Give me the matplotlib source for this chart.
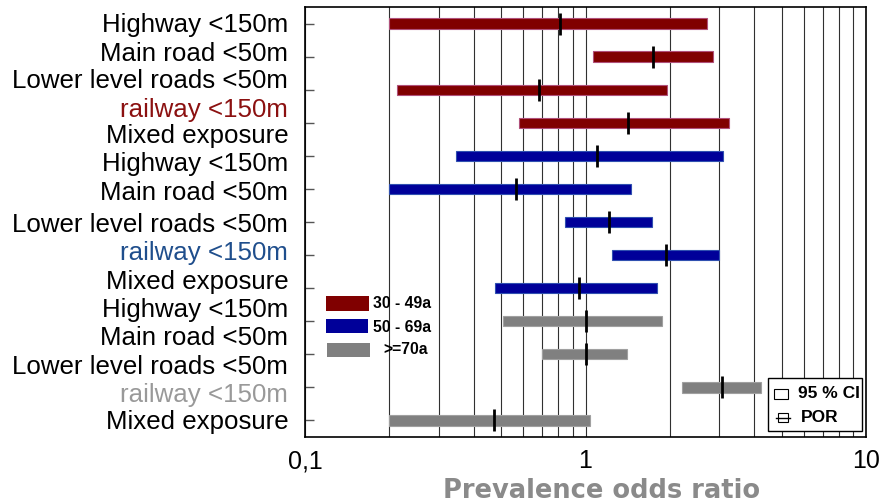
import matplotlib
matplotlib.use("Agg")
import matplotlib.pyplot as plt
from matplotlib.patches import Rectangle
from matplotlib.lines import Line2D

# exposure categories (the y labels, one per text line)
labels = ['Highway <150m', 'Main road <50m', 'Lower level roads <50m', 'railway <150m', 'Mixed exposure',
          'Highway <150m', 'Main road <50m', 'Lower level roads <50m', 'railway <150m', 'Mixed exposure',
          'Highway <150m', 'Main road <50m', 'Lower level roads <50m', 'railway <150m', 'Mixed exposure']
label_colors = ['black', 'black', 'black', '#8b1010', 'black',
                'black', 'black', 'black', '#1f4e8c', 'black',
                'black', 'black', 'black', '#999999', 'black']

# age groups
groups = ['30 - 49a', '50 - 69a', '>=70a']
group_colors = ['#800000', '#000099', '#808080']
group_edges = ['#b0507a', '#3050b0', '#a0a0a0']

# prevalence odds ratio with 95 % CI, one entry per bar
bar_group = [0, 0, 0, 0, 1, 1, 1, 1, 1, 2, 2, 2, 2]
por = [0.81, 1.74, 0.68, 1.42, 1.10, 0.565, 1.21, 1.94, 0.95, 1.0, 1.0, 3.07, 0.47]
ci_low = [0.20, 1.06, 0.213, 0.58, 0.345, 0.20, 0.845, 1.24, 0.475, 0.508, 0.70, 2.21, 0.20]
ci_high = [2.71, 2.85, 1.95, 3.25, 3.09, 1.45, 1.73, 2.99, 1.80, 1.87, 1.41, 4.22, 1.04]

# baseline of each label line, in bar-row units
label_rows = [0.26, 1.12, 1.96, 2.83, 3.62, 4.47, 5.33, 6.31, 7.16, 8.02, 8.88, 9.73, 10.59, 11.45, 12.27]

fig = plt.figure(figsize=(8.83, 5.04), dpi=100)
ax = fig.add_axes([305 / 883, 67 / 504, 561 / 883, 430 / 504])

rows = list(range(len(por)))
widths = [h - l for l, h in zip(ci_low, ci_high)]
ax.barh(rows, widths, left=ci_low, height=0.31,
        color=[group_colors[g] for g in bar_group],
        edgecolor=[group_edges[g] for g in bar_group], linewidth=0.8, zorder=3)
ax.plot(por, rows, ls='none', marker='|', ms=16, mew=2.0, color='black', zorder=4)

ax.set_xscale('log')
ax.set_xlim(0.1, 10)
ax.set_ylim(len(por) - 0.5, -0.5)

# gridlines at every log step
ax.set_xticks([0.1, 1, 10])
ax.set_xticklabels(['0,1', '1', '10'], fontsize=18, family='Liberation Sans')
ax.set_xticks([0.2, 0.3, 0.4, 0.5, 0.6, 0.7, 0.8, 0.9, 2, 3, 4, 5, 6, 7, 8, 9], minor=True)
ax.xaxis.set_minor_formatter(plt.NullFormatter())
ax.grid(True, which='both', axis='x', color='#303030', linewidth=0.8, zorder=0)
ax.tick_params(axis='x', which='both', length=0, pad=9)

ax.set_yticks(rows)
ax.set_yticklabels([])
ax.tick_params(axis='y', direction='in', length=6.5, width=1.0, color='#555555')
for s in ax.spines.values():
    s.set_linewidth(1.2)
    s.set_zorder(5)

ytr = ax.get_yaxis_transform()
for text, row, col in zip(labels, label_rows, label_colors):
    ax.text(-0.03, row, text, transform=ytr, ha='right', va='baseline',
            fontsize=18.6, color=col, family='Liberation Sans', clip_on=False)

ax.set_xlabel('Prevalence odds ratio', fontsize=18.5, fontweight='bold', color='#8a8a8a',
              family='DejaVu Sans', va='baseline')
ax.xaxis.set_label_coords((602 - 305) / 561, (437 - 498) / 430)


def axfrac(px, py):
    return (px - 305) / 561, (437 - py) / 430


# age group key
key_boxes = [(326, 296, 369, 311), (326, 319, 368, 333), (327, 343, 370, 357)]
key_text = [(373, 303), (373, 327), (383, 349)]
for (x0, y0, x1, y1), (tx, ty), name, col in zip(key_boxes, key_text, groups, group_colors):
    fx, fy = axfrac(x0, y1)
    ax.add_patch(Rectangle((fx, fy), (x1 - x0) / 561, (y1 - y0) / 430, transform=ax.transAxes,
                           facecolor=col, edgecolor='none', zorder=6))
    px, py = axfrac(tx, ty)
    ax.text(px, py, name, transform=ax.transAxes, ha='left', va='center', fontsize=11.3,
            fontweight='bold', family='Liberation Sans', zorder=6)

# symbol key
bx, by = axfrac(768, 431)
ax.add_patch(Rectangle((bx, by), (862 - 768) / 561, (431 - 378) / 430, transform=ax.transAxes,
                       facecolor='white', edgecolor='black', linewidth=1.0, zorder=6))
cx, cy = axfrac(774, 399)
ax.add_patch(Rectangle((cx, cy), 13.5 / 561, 10 / 430, transform=ax.transAxes,
                       facecolor='white', edgecolor='black', linewidth=0.8, zorder=7))
px, py = axfrac(778, 422)
ax.add_patch(Rectangle((px, py), 10 / 561, 9 / 430, transform=ax.transAxes,
                       facecolor='white', edgecolor='black', linewidth=0.8, zorder=7))
lx0, ly = axfrac(776, 417.5)
lx1, _ = axfrac(790, 417.5)
ax.add_line(Line2D([lx0, lx1], [ly, ly], transform=ax.transAxes, color='black', linewidth=1.0, zorder=8))
tx, ty = axfrac(798, 394)
ax.text(tx, ty, '95 % CI', transform=ax.transAxes, ha='left', va='center', fontsize=12.5,
        fontweight='bold', family='Liberation Sans', zorder=8)
tx, ty = axfrac(801, 418)
ax.text(tx, ty, 'POR', transform=ax.transAxes, ha='left', va='center', fontsize=12.5,
        fontweight='bold', family='Liberation Sans', zorder=8)

fig.savefig('out.png', dpi=100)
